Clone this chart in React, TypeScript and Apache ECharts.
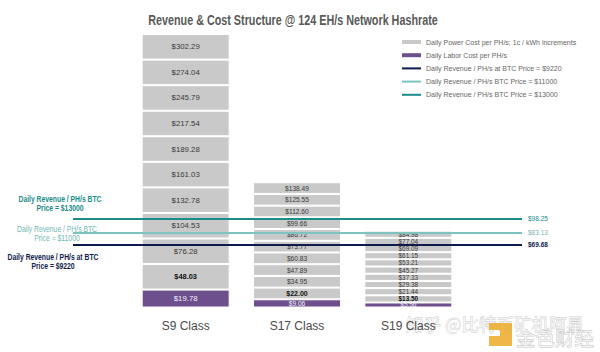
import React, { useEffect, useRef } from "react";
import * as echarts from "echarts";

const categories = ["S9 Class", "S17 Class", "S19 Class"];
// cumulative cost labels per level (first = labor, rest = +1c/kWh power increments)
const s9Totals = [19.78, 48.03, 76.28, 104.53, 132.78, 161.03, 189.28, 217.54, 245.79, 274.04, 302.29];
const s17Totals = [9.06, 22.0, 34.95, 47.89, 60.83, 73.77, 86.72, 99.66, 112.6, 125.55, 138.49];
const s19Totals = [5.56, 13.5, 21.44, 29.38, 37.33, 45.27, 53.21, 61.15, 69.09, 77.04, 84.98];

const revenueNames = [
  "Daily Revenue / PH/s at BTC Price = $9220",
  "Daily Revenue / PH/s BTC Price = $11000",
  "Daily Revenue / PH/s BTC Price = $13000",
];
const revenueValues = [69.68, 83.13, 98.25];
const revenueColors = ["#0e1a4d", "#7cc4bf", "#1a8c89"];

const powerName = "Daily Power Cost per PH/s; 1c / kWh increments";
const laborName = "Daily Labor Cost per PH/s";

const FONT = "'Liberation Sans', Arial, sans-serif";
const labelSizes = [7.8, 6.6, 6.4];
const boldSizes = [7.4, 7, 6.4];

export default function App() {
  const ref = useRef<HTMLDivElement>(null);
  useEffect(() => {
    if (!ref.current) return;
    const chart = echarts.init(ref.current, null, { renderer: "svg" });
    const totals = [s9Totals, s17Totals, s19Totals];
    const barSeries: any[] = [];
    for (let i = 0; i < s9Totals.length; i++) {
      barSeries.push({
        type: "bar",
        name: i === 0 ? laborName : powerName,
        stack: "cost",
        xAxisIndex: 0,
        yAxisIndex: 0,
        barWidth: 88,
        itemStyle: {
          color: i === 0 ? "#6d4f8d" : "#c9c9c9",
          borderColor: "#ffffff",
          borderWidth: 1,
        },
        data: totals.map((t, ci) => ({
          value: +(t[i] - (i > 0 ? t[i - 1] : 0)).toFixed(2),
          label: {
            show: true,
            position: "inside",
            formatter: "$" + t[i].toFixed(2),
            fontFamily: FONT,
            fontSize: i === 1 ? boldSizes[ci] : labelSizes[ci],
            lineHeight: 8,
            fontWeight: i === 1 ? "bold" : "normal",
            color: i === 0 ? "#f4f0f8" : i === 1 ? "#111111" : "#3a3a3a",
          },
        })),
      });
    }
    const lineSeries = revenueNames.map((n, k) => ({
      type: "line",
      name: n,
      xAxisIndex: 1,
      yAxisIndex: 1,
      data: [],
      symbol: "none",
      itemStyle: { color: revenueColors[k] },
      lineStyle: { color: revenueColors[k], width: 2 },
      markLine: {
        silent: true,
        symbol: "none",
        lineStyle: { color: revenueColors[k], width: 2, type: "solid" },
        label: {
          show: true,
          position: "end",
          distance: 6,
          formatter: "$" + revenueValues[k].toFixed(2),
          fontFamily: FONT,
          fontSize: 6.5,
          fontWeight: k === 0 ? "bold" : "normal",
          color: k === 1 ? "#7fb0ad" : revenueColors[k],
        },
        data: [{ yAxis: revenueValues[k] }],
      },
    }));

    const leftNotes = [
      { lines: ["Daily Revenue / PH/s BTC", "Price = $13000"], x: 60, y: 199, color: "#1a8c89", bold: true },
      { lines: ["Daily Revenue / PH/s BTC", "Price = $11000"], x: 57, y: 229, color: "#72b9b4", bold: false },
      { lines: ["Daily Revenue / PH/s at BTC", "Price = $9220"], x: 53, y: 257, color: "#0e1a4d", bold: true },
    ];

    chart.setOption({
      animation: false,
      backgroundColor: "#ffffff",
      legend: {
        orient: "vertical",
        left: 401,
        top: 38.5,
        padding: 0,
        itemGap: 6.2,
        itemWidth: 19,
        itemHeight: 4,
        textStyle: { fontFamily: FONT, fontSize: 7, color: "#666666" },
        data: [
          { name: powerName, icon: "rect", itemStyle: { color: "#c9c9c9", borderWidth: 0 } },
          { name: laborName, icon: "rect", itemStyle: { color: "#6d4f8d", borderWidth: 0 } },
          ...revenueNames.map((n) => ({ name: n, itemStyle: { opacity: 0 } })),
        ],
      },
      grid: [
        { left: 130, right: 136, top: 28, bottom: 44.5 },
        { left: 73, right: 78, top: 28, bottom: 44.5 },
      ],
      xAxis: [
        {
          type: "category",
          gridIndex: 0,
          data: categories,
          axisLine: { show: false },
          axisTick: { show: false },
          axisLabel: { fontFamily: FONT, fontSize: 12, color: "#4a4a4a", margin: 12 },
        },
        { type: "value", gridIndex: 1, min: 0, max: 1, show: false },
      ],
      yAxis: [
        { type: "value", gridIndex: 0, min: 0, max: 309, show: false },
        { type: "value", gridIndex: 1, min: 0, max: 309, show: false },
      ],
      series: [...barSeries, ...lineSeries],
      graphic: [
        {
          type: "text",
          x: 293,
          y: 21,
          scaleX: 0.77,
          style: {
            text: "Revenue & Cost Structure @ 124 EH/s Network Hashrate",
            textAlign: "center",
            textVerticalAlign: "middle",
            fontFamily: FONT,
            fontSize: 14,
            fontWeight: "bold",
            fill: "#595959",
          },
        },
        ...leftNotes.flatMap((n) =>
          n.lines.map((t, j) => ({
            type: "text",
            x: n.x,
            y: n.y + j * 9.5,
            scaleX: 0.8,
            style: {
              text: t,
              textAlign: "center",
              textVerticalAlign: "middle",
              fontFamily: FONT,
              fontSize: 8.5,
              fontWeight: n.bold ? "bold" : "normal",
              fill: n.color,
            },
          }))
        ),
        {
          type: "text",
          x: 406,
          y: 323,
          style: {
            text: "知乎 @比特币矿机阿星",
            textVerticalAlign: "middle",
            fontFamily: "'Noto Sans CJK SC', sans-serif",
            fontSize: 17.5,
            fill: "rgba(255,255,255,0.7)",
            stroke: "rgba(140,140,140,0.45)",
            lineWidth: 0.8,
          },
        },
        {
          type: "polygon",
          shape: {
            points: [
              [489, 323], [512, 323], [512, 346], [489, 346], [489, 336], [500, 336], [500, 330], [489, 330],
            ],
          },
          style: { fill: "rgba(236,170,40,0.85)" },
        },
        {
          type: "text",
          x: 516,
          y: 337,
          style: {
            text: "金色财经",
            textVerticalAlign: "middle",
            fontFamily: "'Noto Sans CJK SC', sans-serif",
            fontSize: 19.5,
            fill: "rgba(255,255,255,0.7)",
            stroke: "rgba(140,140,140,0.55)",
            lineWidth: 0.8,
          },
        },
      ],
    });
    return () => chart.dispose();
  }, []);
  return <div ref={ref} style={{ width: 600, height: 352, position: "absolute", left: 0, top: 0 }} />;
}
